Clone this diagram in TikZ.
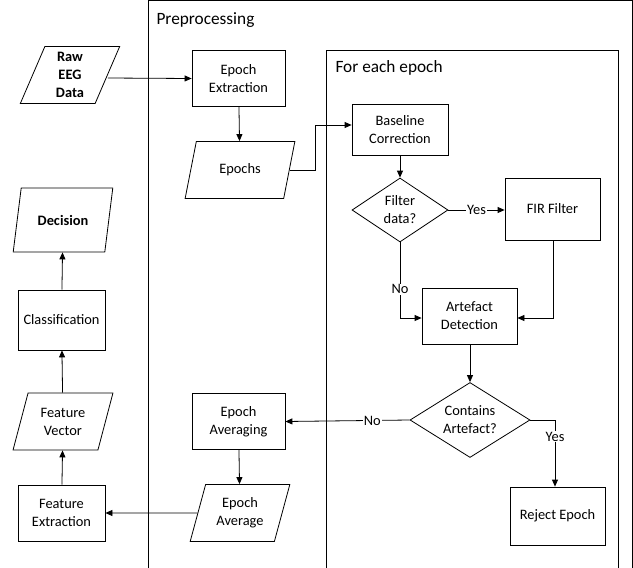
\documentclass[tikz,border=0pt]{standalone}
\usepackage{fontspec}
\setmainfont{Carlito}
\usetikzlibrary{shapes.geometric,arrows.meta}

\tikzset{
  box/.style={draw,thick,minimum width=93pt,minimum height=56pt,align=center,font=\Large},
  data/.style={draw,thick,trapezium,trapezium left angle=72,trapezium right angle=108,
    trapezium stretches=true,minimum width=100pt,minimum height=57pt,align=center,font=\Large},
  choice/.style={draw,thick,diamond,aspect=1.55,inner sep=0pt,align=center,font=\Large},
  arr/.style={thick,-{Triangle[length=7pt,width=6pt]}},
  lbl/.style={fill=white,inner sep=1pt,font=\Large}
}

\begin{document}
\begin{tikzpicture}[x=1pt,y=-1pt]
\useasboundingbox (0,0) rectangle (633,568);

% frames
\draw[thick] (148,0.7) rectangle (632.3,568);
\draw[thick] (326,50) rectangle (618,568);
\node[anchor=west,font=\LARGE] (pretitle) at (153,20) {Preprocessing};
\node[anchor=west,font=\LARGE] (eptitle) at (332,68) {For each epoch};

% nodes
\node[data,font=\Large\bfseries] (raw) at (70,75) {Raw\\EEG\\Data};
\node[box] (extract) at (238.5,78.5) {Epoch\\Extraction};
\node[data,minimum width=110pt] (epochs) at (240,170) {Epochs};
\node[box,minimum width=96pt,minimum height=51pt] (baseline) at (400,129.5) {Baseline\\Correction};
\node[choice,minimum width=96pt,minimum height=64pt] (filter) at (400,210) {Filter\\data?};
\node[box,minimum width=95pt,minimum height=62pt] (fir) at (552.5,209) {FIR Filter};
\node[box,minimum width=95pt] (detect) at (469.5,316) {Artefact\\Detection};
\node[choice,minimum width=120pt,minimum height=75pt] (contains) at (470,420) {Contains\\Artefact?};
\node[box,minimum width=95pt,minimum height=58pt] (reject) at (557.5,516) {Reject Epoch};
\node[box] (averaging) at (238.5,421.5) {Epoch\\Averaging};
\node[data] (average) at (240,513) {Epoch\\Average};
\node[box,minimum width=87pt] (featext) at (61.5,513) {Feature\\Extraction};
\node[data,minimum width=100pt] (featvec) at (63,421.5) {Feature\\Vector};
\node[box,minimum width=87pt,minimum height=60pt] (classify) at (61.5,320) {Classification};
\node[data,font=\Large\bfseries,minimum height=64pt] (decision) at (63,220) {Decision};

% connectors
\coordinate (bend1) at (315,170);
\coordinate (bend2) at (315,125);
\coordinate (firdown) at (553,318);
\coordinate (nodown) at (400,318);
\coordinate (yesright) at (555,420);

\draw[arr] (raw.east |- 0,78) -- (extract.west);
\draw[arr] (extract) -- (epochs);
\draw[arr] (epochs.east |- bend1) -- (bend1) -- (bend2) -- (baseline.west |- bend2);
\draw[arr] (baseline) -- (filter);
\draw[arr] (filter.east) -- node[lbl] {Yes} (fir.west |- filter.east);
\draw[arr] (fir.south -| firdown) -- (firdown) -- (detect.east |- firdown);
\draw[arr] (filter.south) -- node[lbl,pos=0.62] {No} (nodown) -- (detect.west |- nodown);
\draw[arr] (detect.south -| contains.north) -- (contains.north);
\draw[arr] (contains.east) -- (yesright) -- node[lbl,pos=0.25] {Yes} (reject.north -| yesright);
\draw[arr] (contains.west) -- node[lbl,pos=0.3] {No} (averaging.east);
\draw[arr] (averaging) -- (average);
\draw[arr] (average.west) -- (featext.east);
\draw[arr] (featext) -- (featvec);
\draw[arr] (featvec) -- (classify);
\draw[arr] (classify) -- (decision);
\end{tikzpicture}
\end{document}
